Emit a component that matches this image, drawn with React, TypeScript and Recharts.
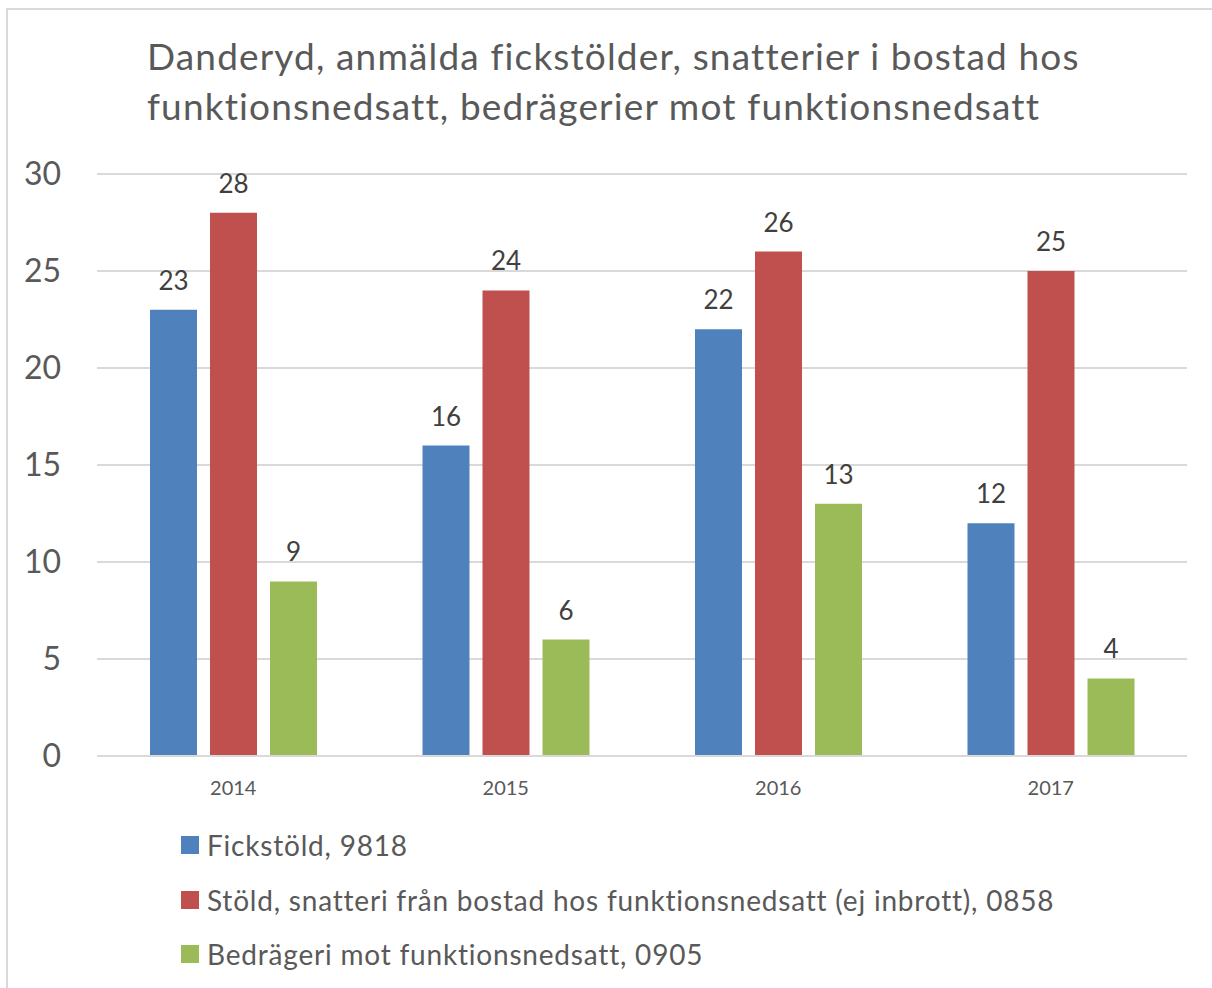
import React from 'react';
import { BarChart, Bar, XAxis, YAxis, CartesianGrid, LabelList } from 'recharts';

const years = ['2014', '2015', '2016', '2017'];
const fickstold = [23, 16, 22, 12];
const stoldBostad = [28, 24, 26, 25];
const bedrageri = [9, 6, 13, 4];
const yTicks = [0, 5, 10, 15, 20, 25, 30];

const seriesNames = [
  'Fickstöld, 9818',
  'Stöld, snatteri från bostad hos funktionsnedsatt (ej inbrott), 0858',
  'Bedrägeri mot funktionsnedsatt, 0905',
];
const seriesColors = ['#4f81bd', '#c0504d', '#9bbb59'];

const titleLines = [
  'Danderyd, anmälda fickstölder, snatterier i bostad hos',
  'funktionsnedsatt, bedrägerier mot funktionsnedsatt',
];

const data = years.map((year, i) => ({
  year,
  a: fickstold[i],
  b: stoldBostad[i],
  c: bedrageri[i],
}));

const FONT = 'Lato, "Open Sans", sans-serif';
const TEXT = '#595959';

const App: React.FC = () => {
  return (
    <div
      style={{
        position: 'absolute',
        left: 0,
        top: 0,
        width: 1212,
        height: 988,
        background: '#fff',
        fontFamily: FONT,
        fontVariantLigatures: 'none',
      }}
    >
      {/* outer frame: only top and left edges are visible */}
      <div
        style={{
          position: 'absolute',
          left: 6,
          top: 8,
          width: 1206,
          height: 980,
          borderTop: '2px solid #d9d9d9',
          borderLeft: '2px solid #d9d9d9',
        }}
      />
      <BarChart
        width={1212}
        height={988}
        data={data}
        margin={{ top: 174, right: 25, bottom: 192, left: 0 }}
        barSize={47}
        barGap={13}
        style={{ position: 'absolute', left: 0, top: 0 }}
      >
        <CartesianGrid vertical={false} stroke="#d9d9d9" strokeWidth={2} />
        <XAxis
          dataKey="year"
          height={40}
          tickLine={false}
          tickSize={0}
          tickMargin={25}
          axisLine={{ stroke: '#d9d9d9', strokeWidth: 2 }}
          tick={{ fill: TEXT, fontSize: 20, fontFamily: FONT }}
        />
        <YAxis
          width={97}
          domain={[0, 30]}
          ticks={yTicks}
          interval={0}
          axisLine={false}
          tickLine={false}
          tickSize={0}
          tickMargin={36}
          tick={{ fill: TEXT, fontSize: 32, fontFamily: FONT }}
        />
        <Bar dataKey="a" fill={seriesColors[0]} isAnimationActive={false}>
          <LabelList dataKey="a" position="top" offset={20} fill="#404040" fontSize={26} fontFamily={FONT} />
        </Bar>
        <Bar dataKey="b" fill={seriesColors[1]} isAnimationActive={false}>
          <LabelList dataKey="b" position="top" offset={20} fill="#404040" fontSize={26} fontFamily={FONT} />
        </Bar>
        <Bar dataKey="c" fill={seriesColors[2]} isAnimationActive={false}>
          <LabelList dataKey="c" position="top" offset={20} fill="#404040" fontSize={26} fontFamily={FONT} />
        </Bar>
      </BarChart>

      {/* title */}
      <div
        style={{
          position: 'absolute',
          left: 147,
          top: 31,
          color: TEXT,
          fontSize: 37,
          lineHeight: '50px',
          letterSpacing: 1.15,
          whiteSpace: 'nowrap',
        }}
      >
        {titleLines.map((t) => (
          <div key={t}>{t}</div>
        ))}
      </div>

      {/* legend */}
      <div style={{ position: 'absolute', left: 181, top: 818 }}>
        {seriesNames.map((name, i) => (
          <div key={name} style={{ display: 'flex', alignItems: 'center', height: 54.5 }}>
            <span style={{ width: 18, height: 18, background: seriesColors[i], marginRight: 8, display: 'inline-block' }} />
            <span style={{ color: TEXT, fontSize: 28, letterSpacing: 0.8, whiteSpace: 'nowrap' }}>{name}</span>
          </div>
        ))}
      </div>
    </div>
  );
};

export default App;
